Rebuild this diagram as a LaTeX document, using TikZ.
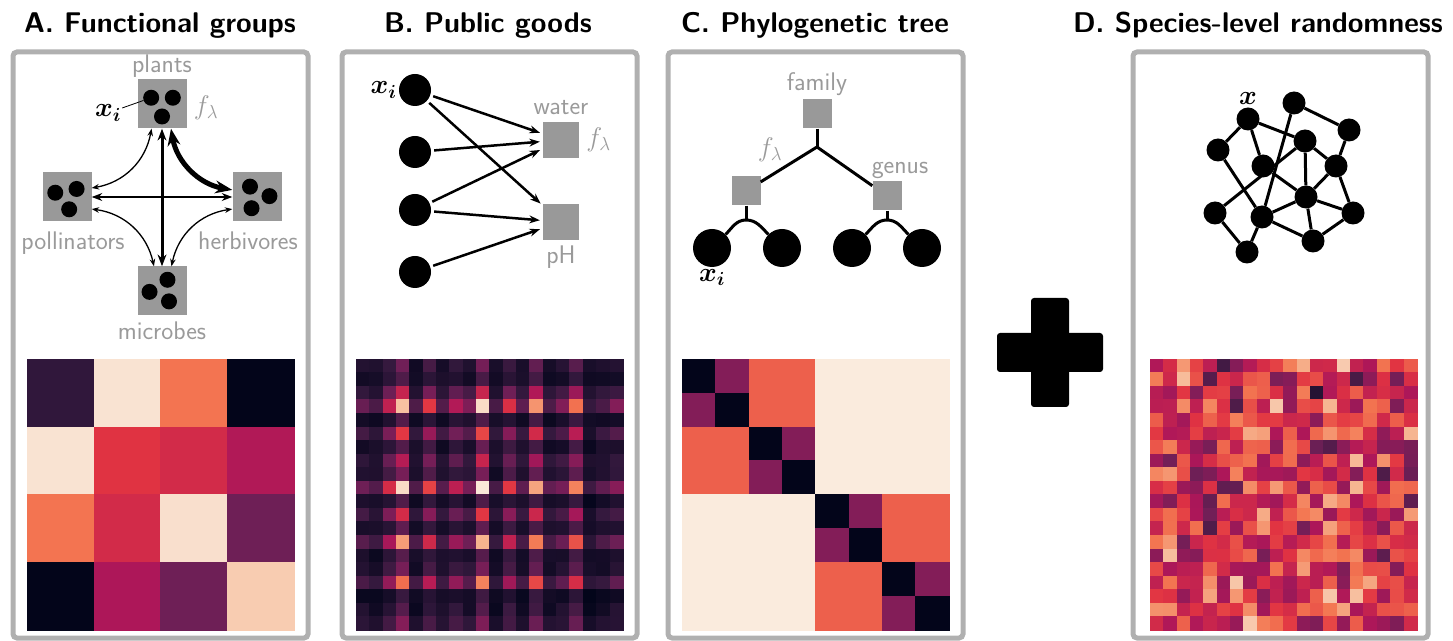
\documentclass[tikz,border=0pt]{standalone}
\usepackage{fix-cm}
\usepackage{amsmath}
\usetikzlibrary{positioning,arrows.meta,calc}

% rocket colour map stops
\definecolor{rk0}{HTML}{03051A}
\definecolor{rk1}{HTML}{35193E}
\definecolor{rk2}{HTML}{701F57}
\definecolor{rk3}{HTML}{AD1759}
\definecolor{rk4}{HTML}{E13342}
\definecolor{rk5}{HTML}{F37651}
\definecolor{rk6}{HTML}{F6B48F}
\definecolor{rk7}{HTML}{FAEBDD}
\definecolor{boxgray}{HTML}{999999}
\definecolor{labgray}{HTML}{9A9A9A}
\definecolor{framegray}{HTML}{B0B0B0}

% sets the colour `cell' for a value in [0,1]
\newcommand\rocketcell[1]{%
  \pgfmathsetmacro\rkpos{max(0,min(6.999,7*(#1)))}%
  \pgfmathtruncatemacro\rklo{floor(\rkpos)}%
  \pgfmathtruncatemacro\rkhi{\rklo+1}%
  \pgfmathtruncatemacro\rkmix{round(100*(\rkpos-\rklo))}%
  \colorlet{cell}{rk\rkhi!\rkmix!rk\rklo}}

\begin{document}
\begin{tikzpicture}[
  x=1pt, y=1pt,
  >={Stealth[length=4pt 2.6]},
  ttl/.style={font=\fontsize{28.5}{34}\selectfont\sffamily\bfseries, inner sep=0pt},
  glab/.style={text=labgray, font=\fontsize{25.5}{30}\selectfont\sffamily, inner sep=1pt},
  mlab/.style={font=\fontsize{27}{31}\selectfont, inner sep=1pt},
  frame/.style={draw=framegray, line width=5pt, rounded corners=4pt},
  grp/.style={fill=boxgray, minimum size=49pt, inner sep=0pt},
  dotA/.style={circle, fill=black, minimum size=16pt, inner sep=0pt},
  spc/.style={circle, fill=black, minimum size=32pt, inner sep=0pt},
  res/.style={fill=boxgray, minimum size=36pt, inner sep=0pt},
  taxon/.style={fill=boxgray, minimum size=29pt, inner sep=0pt},
  leaf/.style={circle, fill=black, minimum size=38pt, inner sep=0pt},
  net/.style={circle, fill=black, minimum size=23pt, inner sep=0pt},
  link/.style={<->, draw=black},
  flowB/.style={->, line width=2.5pt, shorten <=3pt, shorten >=3pt},
  branch/.style={line width=3pt},
  edge/.style={line width=3pt},
]
\useasboundingbox (0,0) rectangle (1453,640);

% ---- frames and titles ----
\foreach \fx in {13,342,668,1133}
  \draw[frame] (\fx,2) rectangle ++(295,586);
\node[ttl, anchor=base] (ttlA) at (160,607)  {A. Functional groups};
\node[ttl, anchor=base] (ttlB) at (488,607)  {B. Public goods};
\node[ttl, anchor=base] (ttlC) at (815,607)  {C. Phylogenetic tree};
\node[ttl, anchor=base] (ttlD) at (1258,607) {D. Species-level randomness};

% ---- A: functional groups ----
\node[grp] (plants) at (162,536) {};
\node[grp] (poll)   at (67,443)  {};
\node[grp] (herb)   at (257,443) {};
\node[grp] (micro)  at (162,349) {};
\foreach \g/\rot in {plants/30,poll/40,herb/4,micro/64}
  \foreach \k in {1,2,3}
    \node[dotA] (\g-\k) at ($(\g)+(\rot+120*\k-120:12.5)$) {};
\node[glab, above=1pt of plants] (plantsl) {plants};
\node[glab, below=9pt of poll, xshift=6pt] (polll) {pollinators};
\node[glab, below=9pt of herb, xshift=-9pt] (herbl) {herbivores};
\node[glab, below=5pt of micro] (microl) {microbes};
\node[mlab, text=labgray, right=6pt of plants, yshift=-4pt] (fA) {$f_\lambda$};
\node[mlab] (xA) at (108,527) {$\boldsymbol{x_i}$};
\draw[line width=0.8pt] (xA) -- (plants-2);

\draw[link, line width=3pt]   (plants) -- (micro);
\draw[link, line width=2.5pt] (poll) -- (herb);
\draw[link, line width=1.3pt] (plants.-113) to[bend left=35] (poll.20);
\draw[link, line width=5pt]   (plants.-70) to[bend right=35] (herb.164);
\draw[link, line width=1.3pt] (poll.-26) to[bend left=35] (micro.108);
\draw[link, line width=1.3pt] (herb.206) to[bend right=35] (micro.69);

% group-level matrix
\foreach \vals [count=\r from 0] in {{0.13,0.98,0.71,0},{0.98,0.57,0.53,0.44},
                                    {0.71,0.53,0.97,0.28},{0,0.43,0.28,0.92}}{
  \foreach \v [count=\c from 0] in \vals {
    \rocketcell{\v}
    \fill[cell, draw=cell, line width=0.3pt] (27+\c*66.75,281-\r*67.75) rectangle ++(66.75,-67.75);
  }
}

% ---- B: public goods ----
\node[spc] (b1) at (415,550) {};
\node[spc] (b2) at (415,488) {};
\node[spc] (b3) at (415,430) {};
\node[spc] (b4) at (415,368) {};
\node[res] (water) at (561,500) {};
\node[res] (ph)    at (561,418) {};
\node[glab, above=6pt of water] (waterl) {water};
\node[glab, below=4pt of ph] (phl) {pH};
\node[mlab, text=labgray, right=6pt of water] (fB) {$f_\lambda$};
\node[mlab, left=1pt of b1] (xB) {$\boldsymbol{x_i}$};
\foreach \s/\t in {b1/water,b1/ph,b2/water,b3/water,b3/ph,b4/ph}
  \draw[flowB] (\s) -- (\t);

% species loadings on the goods
\def\bload{{0.29,0.21,0.52,0.95,0.21,0.62,0.24,0.48,0.32,1.0,0.2,0.58,0.25,0.84,0.23,0.32,0.73,0.15,0.23,0.33}}
\pgfmathsetseed{11}
\foreach \r in {0,...,19}
  \foreach \c in {0,...,19}{
    \pgfmathsetmacro\v{\bload[\r]*\bload[\c]+0.05*(rnd-0.5)}
    \rocketcell{\v}
    \fill[cell, draw=cell, line width=0.3pt] (356+\c*13.35,281-\r*13.55) rectangle ++(13.35,-13.55);
  }

% ---- C: phylogenetic tree ----
\node[taxon] (family) at (817,526) {};
\coordinate (j0) at (817,493);
\node[taxon] (lgen) at (746,449) {};
\node[taxon] (rgen) at (887,444) {};
\coordinate (j1) at (746,420);
\coordinate (j2) at (887,420);
\node[leaf] (l1) at (712,392) {};
\node[leaf] (l2) at (782,392) {};
\node[leaf] (l3) at (852,392) {};
\node[leaf] (l4) at (922,392) {};
\draw[branch] (family) -- (j0);
\draw[branch] (lgen) -- (j0) -- (rgen);
\draw[branch] (lgen) -- (j1);
\draw[branch] (rgen) -- (j2);
\draw[branch] (l1) to[out=45,in=180] (j1) to[out=0,in=135] (l2);
\draw[branch] (l3) to[out=45,in=180] (j2) to[out=0,in=135] (l4);
\node[glab, above=2pt of family] (familyl) {family};
\node[glab, above=1pt of rgen, xshift=13pt] (genusl) {genus};
\node[mlab, text=labgray] (fC) at (770,490) {$f_\lambda$};
\node[mlab, below=1pt of l1] (xC) {$\boldsymbol{x_i}$};

% block matrix from the tree
\foreach \r in {0,...,7}
  \foreach \c in {0,...,7}{
    \pgfmathsetmacro\v{ifthenelse(\r==\c,0,ifthenelse(int(\r/2)==int(\c/2),0.33,ifthenelse(int(\r/4)==int(\c/4),0.667,1)))}
    \rocketcell{\v}
    \fill[cell, draw=cell, line width=0.3pt] (682+\c*33.375,281-\r*33.875) rectangle ++(33.375,-33.875);
  }

% ---- plus ----
\fill[rounded corners=3pt] (1031,233) rectangle (1069,342);
\fill[rounded corners=3pt] (997,268) rectangle (1103,307);

% ---- D: species-level randomness ----
\foreach \n/\nx/\ny in {1/1248/521,2/1294/537,3/1349/510,4/1218/490,5/1305/499,
                        6/1263/474,7/1336/474,8/1306/443,9/1215/427,10/1262/423,
                        11/1353/427,12/1313/399,13/1247/388}
  \node[net] (d\n) at (\nx,\ny) {};
\node[mlab, above=2pt of d1] (xD) {$\boldsymbol{x}$};
\foreach \a/\b in {1/4,1/6,1/5,2/3,2/10,3/7,4/10,9/5,5/7,5/8,6/8,7/8,7/11,
                   8/10,8/11,10/12,8/12,11/12,9/13,10/13}
  \draw[edge] (d\a) -- (d\b);

\pgfmathsetseed{7}
\foreach \r in {0,...,19}
  \foreach \c in {0,...,19}{
    \pgfmathsetmacro\v{0.55+0.34*(rnd+rnd+rnd-1.5)}
    \rocketcell{\v}
    \fill[cell, draw=cell, line width=0.3pt] (1150+\c*13.35,281-\r*13.55) rectangle ++(13.35,-13.55);
  }
\end{tikzpicture}
\end{document}
